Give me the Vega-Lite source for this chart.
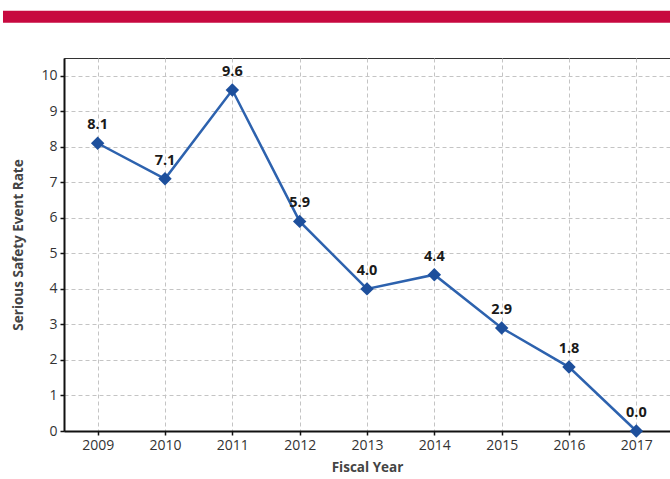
{
  "$schema": "https://vega.github.io/schema/vega-lite/v6.json",
  "width": 606,
  "height": 373,
  "padding": {"left": 2, "top": 10, "right": 0, "bottom": 2},
  "background": "white",
  "config": {
    "font": "Open Sans",
    "view": {"stroke": "#333333", "strokeWidth": 1},
    "axis": {
      "domainColor": "#111111",
      "domainWidth": 2,
      "tickColor": "#111111",
      "tickSize": 4,
      "tickWidth": 1.5,
      "gridColor": "#c4c4c4",
      "gridDash": [4, 3],
      "gridWidth": 1,
      "labelColor": "#333333",
      "labelFontSize": 14,
      "labelOverlap": false,
      "titleColor": "#444444",
      "titleFontSize": 13.5,
      "titleFontWeight": "bold"
    }
  },
  "layer": [
    {
      "data": {"values": [{"x1": 2007.594, "x2": 2017.52, "y1": 11.49, "y2": 11.83}]},
      "mark": {"type": "rect", "color": "#C7093F", "clip": false},
      "encoding": {
        "x": {"field": "x1", "type": "quantitative", "scale": {"domain": [2008.5, 2017.5], "nice": false, "zero": false},
          "axis": {"values": [2009, 2010, 2011, 2012, 2013, 2014, 2015, 2016, 2017], "format": "d", "labelPadding": 3, "titlePadding": 8, "title": "Fiscal Year"}},
        "x2": {"field": "x2"},
        "y": {"field": "y1", "type": "quantitative", "scale": {"domain": [0, 10.5], "nice": false},
          "axis": {"values": [0, 1, 2, 3, 4, 5, 6, 7, 8, 9, 10], "titlePadding": 15, "labelPadding": 3, "title": "Serious Safety Event Rate"}},
        "y2": {"field": "y2"}
      }
    },
    {
      "data": {"values": [
        {"year": 2009, "rate": 8.1},
        {"year": 2010, "rate": 7.1},
        {"year": 2011, "rate": 9.6},
        {"year": 2012, "rate": 5.9},
        {"year": 2013, "rate": 4.0},
        {"year": 2014, "rate": 4.4},
        {"year": 2015, "rate": 2.9},
        {"year": 2016, "rate": 1.8},
        {"year": 2017, "rate": 0.0}
      ]},
      "encoding": {
        "x": {"field": "year", "type": "quantitative", "scale": {"domain": [2008.5, 2017.5], "nice": false, "zero": false},
          "axis": {"values": [2009, 2010, 2011, 2012, 2013, 2014, 2015, 2016, 2017], "format": "d", "labelPadding": 3, "titlePadding": 8, "title": "Fiscal Year"}},
        "y": {"field": "rate", "type": "quantitative", "scale": {"domain": [0, 10.5], "nice": false},
          "axis": {"values": [0, 1, 2, 3, 4, 5, 6, 7, 8, 9, 10], "titlePadding": 15, "labelPadding": 3, "title": "Serious Safety Event Rate"}}
      },
      "layer": [
        {"mark": {"type": "line", "color": "#2D62AE", "strokeWidth": 2.5, "clip": false}},
        {"mark": {"type": "point", "shape": "diamond", "filled": true, "size": 180, "color": "#1D4F9C", "opacity": 1, "clip": false}},
        {"mark": {"type": "text", "dy": -18, "fontSize": 14.5, "fontWeight": "bold", "color": "#1a1a1a", "clip": false},
          "encoding": {"text": {"field": "rate", "type": "quantitative", "format": ".1f"}}}
      ]
    }
  ]
}
